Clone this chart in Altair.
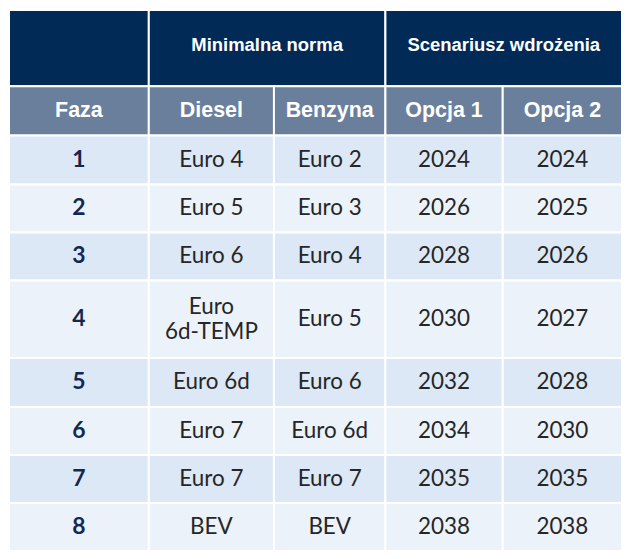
import altair as alt
import pandas as pd

# ---- table content ----
group_headers = ["", "Minimalna norma", "Scenariusz wdrożenia"]
group_spans = [1, 2, 2]
col_headers = ["Faza", "Diesel", "Benzyna", "Opcja 1", "Opcja 2"]
faza = ["1", "2", "3", "4", "5", "6", "7", "8"]
diesel = ["Euro 4", "Euro 5", "Euro 6", "Euro\n6d-TEMP", "Euro 6d", "Euro 7", "Euro 7", "BEV"]
benzyna = ["Euro 2", "Euro 3", "Euro 4", "Euro 5", "Euro 6", "Euro 6d", "Euro 7", "BEV"]
opcja1 = ["2024", "2026", "2028", "2030", "2032", "2034", "2035", "2038"]
opcja2 = ["2024", "2025", "2026", "2027", "2028", "2030", "2035", "2038"]

# ---- layout (table grid units) ----
COL_W = [143, 128, 114, 120, 122]
ROW_H = [78, 50, 50, 49, 49, 79, 50, 49, 49, 49]
X0, Y0 = 3, 3
LINE_H = 25

NAVY = "#022a57"
SLATE = "#6a7f9c"
ROW_A = "#dce8f6"
ROW_B = "#ecf2fa"

col_edges = [X0]
for w in COL_W:
    col_edges.append(col_edges[-1] + w)
row_edges = [Y0]
for h in ROW_H:
    row_edges.append(row_edges[-1] + h)

cells = []
ci = 0
for label, span in zip(group_headers, group_spans):
    cells.append(dict(x=col_edges[ci], x2=col_edges[ci + span], y=row_edges[0], y2=row_edges[1],
                      fill=NAVY, label=label, style="h1"))
    ci += span
for c, label in enumerate(col_headers):
    cells.append(dict(x=col_edges[c], x2=col_edges[c + 1], y=row_edges[1], y2=row_edges[2],
                      fill=SLATE, label=label, style="h2"))
for r in range(len(faza)):
    vals = [faza[r], diesel[r], benzyna[r], opcja1[r], opcja2[r]]
    fill = ROW_A if r % 2 == 0 else ROW_B
    for c, v in enumerate(vals):
        cells.append(dict(x=col_edges[c], x2=col_edges[c + 1], y=row_edges[r + 2], y2=row_edges[r + 3],
                          fill=fill, label=v, style="faza" if c == 0 else "body"))

df = pd.DataFrame(cells)
df["cx"] = (df["x"] + df["x2"]) / 2
nlines = df["label"].str.count("\n") + 1
df["cy"] = (df["y"] + df["y2"]) / 2 - (nlines - 1) * LINE_H / 2

xs = alt.Scale(domain=[col_edges[0], col_edges[-1]], nice=False, zero=False)
ys = alt.Scale(domain=[row_edges[0], row_edges[-1]], nice=False, zero=False, reverse=True)

base = alt.Chart(df)

rects = base.mark_rect(stroke="white", strokeWidth=2).encode(
    x=alt.X("x:Q", scale=xs, axis=None),
    x2="x2:Q",
    y=alt.Y("y:Q", scale=ys, axis=None),
    y2="y2:Q",
    fill=alt.Fill("fill:N", scale=None),
)

def text_layer(style, **kw):
    return base.transform_filter(alt.datum.style == style).mark_text(
        align="center", baseline="middle", lineBreak="\n", lineHeight=LINE_H, **kw
    ).encode(
        x=alt.X("cx:Q", scale=xs, axis=None),
        y=alt.Y("cy:Q", scale=ys, axis=None),
        text="label:N",
    )

h1 = text_layer("h1", font="Liberation Sans", fontWeight="bold", fontSize=18.5, color="white", dy=-3)
h2 = text_layer("h2", font="Liberation Sans", fontWeight="bold", fontSize=21.5, color="white")
fz = text_layer("faza", font="Lato", fontWeight="bold", fontSize=23, color="#14284f")
body = text_layer("body", font="Lato", fontSize=22.5, color="#262626")

chart = alt.layer(rects, h1, h2, fz, body).properties(
    width=615, height=543, padding=0
).configure_view(stroke=None)

chart.save("out.html", embed_options={"renderer": "svg", "actions": False})
